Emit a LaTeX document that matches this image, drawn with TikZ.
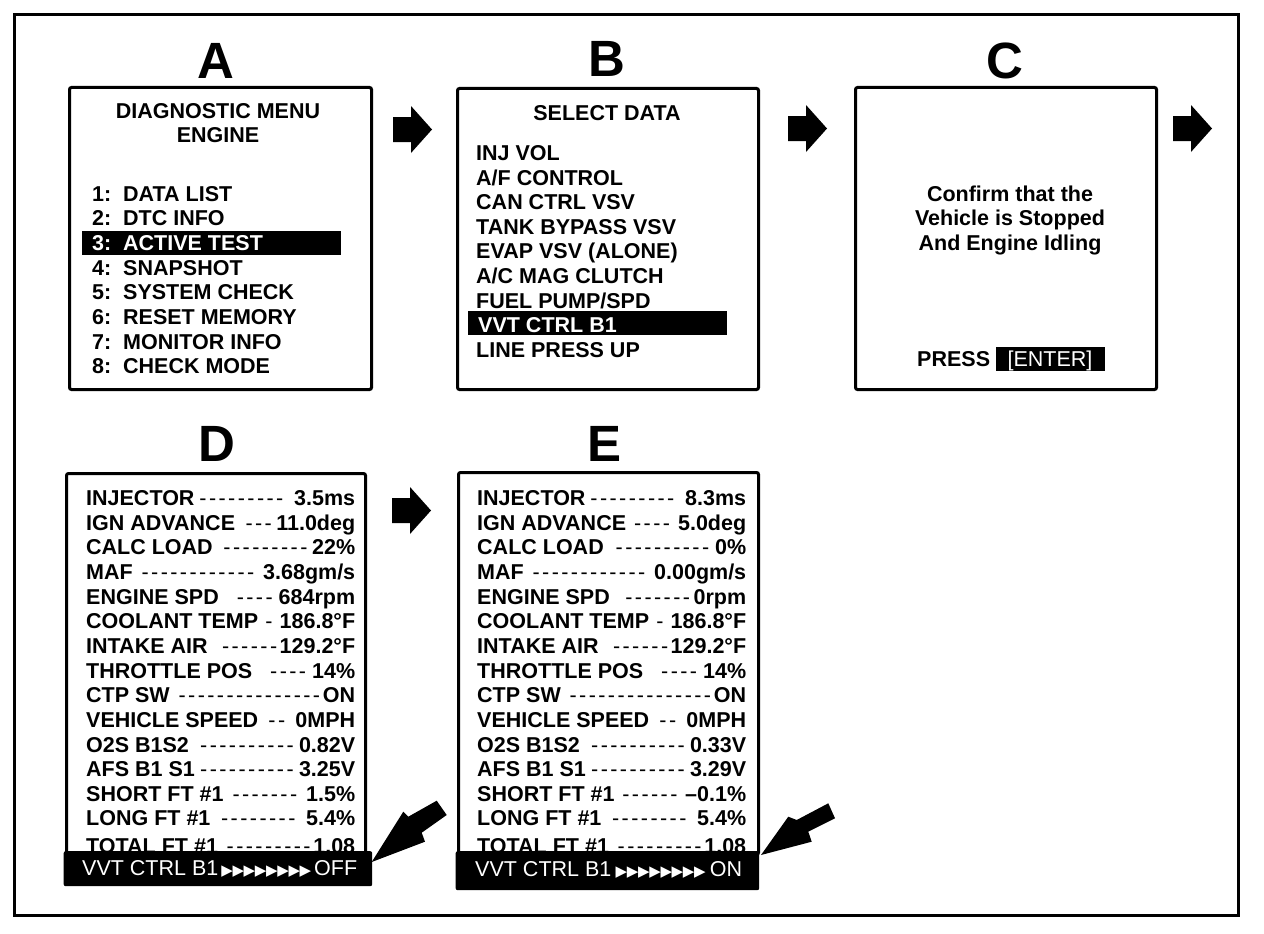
\documentclass[tikz,border=0pt]{standalone}
\usepackage{fontspec}
\setmainfont{Liberation Sans}
\newfontfamily\trifont{DejaVu Sans}
\newcommand{\ldr}{\cleaders\hbox to 9.6pt{\hss\mdseries-\hss}\hfill}
\newcommand{\onetri}{\makebox[11.2pt]{▶}}
\newcommand{\tris}{{\trifont\fontsize{15}{15}\selectfont\onetri\onetri\onetri\onetri\onetri\onetri\onetri\onetri}}
\tikzset{
  panel/.style={draw, line width=3pt, rounded corners=2pt, inner sep=0pt, anchor=north west},
  hlbar/.style={fill=black, inner sep=0pt, anchor=north west},
  tx/.style={inner sep=0pt, font=\fontsize{21.5}{21.5}\selectfont\bfseries},
  wtx/.style={inner sep=0pt, text=white, font=\fontsize{21.5}{21.5}\selectfont\bfseries},
  wtxr/.style={inner sep=0pt, text=white, font=\fontsize{21.5}{21.5}\selectfont},
  lbl/.style={inner sep=0pt, anchor=base, font=\fontsize{51}{51}\selectfont\bfseries},
  rarrow/.pic={\fill (0,-12.5) -- (18,-12.5) -- (18,-23.5) -- (39,0) -- (18,23.5) -- (18,12.5) -- (0,12.5) -- cycle;}
}
\begin{document}
\begin{tikzpicture}[x=1pt,y=-1pt]
\useasboundingbox (0,0) rectangle (1264,934);
\fill[white] (0,0) rectangle (1264,934);
\draw[line width=3pt] (14,15) rectangle (1238,915);

% ---------- A ----------
\node[lbl] (labA) at (216,78) {A};
\node[panel, minimum width=302pt, minimum height=302pt] (pA) at (68,86) {};
\node[tx, anchor=base] (aT1) at (218,118) {DIAGNOSTIC MENU};
\node[tx, anchor=base] (aT2) at (218,142) {ENGINE};
\node[hlbar, minimum width=259pt, minimum height=24pt] (hA) at (82,231) {};
\node[tx, anchor=base west] (an1) at (92,201) {1:};
\node[tx, anchor=base west] (at1) at (123,201) {DATA LIST};
\node[tx, anchor=base west] (an2) at (92,225.7) {2:};
\node[tx, anchor=base west] (at2) at (123,225.7) {DTC INFO};
\node[wtx, anchor=base west] (an3) at (92,250.4) {3:};
\node[wtx, anchor=base west] (at3) at (123,250.4) {ACTIVE TEST};
\node[tx, anchor=base west] (an4) at (92,275.1) {4:};
\node[tx, anchor=base west] (at4) at (123,275.1) {SNAPSHOT};
\node[tx, anchor=base west] (an5) at (92,299.8) {5:};
\node[tx, anchor=base west] (at5) at (123,299.8) {SYSTEM CHECK};
\node[tx, anchor=base west] (an6) at (92,324.5) {6:};
\node[tx, anchor=base west] (at6) at (123,324.5) {RESET MEMORY};
\node[tx, anchor=base west] (an7) at (92,349.2) {7:};
\node[tx, anchor=base west] (at7) at (123,349.2) {MONITOR INFO};
\node[tx, anchor=base west] (an8) at (92,373.9) {8:};
\node[tx, anchor=base west] (at8) at (123,373.9) {CHECK MODE};

% ---------- B ----------
\node[lbl] (labB) at (607,77) {B};
\node[panel, minimum width=301pt, minimum height=301pt] (pB) at (456,87) {};
\node[tx, anchor=base] (bT) at (607,120) {SELECT DATA};
\node[hlbar, minimum width=259pt, minimum height=24pt] (hB) at (468,311) {};
\node[tx, anchor=base west] (b1) at (476,160.5) {INJ VOL};
\node[tx, anchor=base west] (b2) at (476,185.1) {A/F CONTROL};
\node[tx, anchor=base west] (b3) at (476,209.7) {CAN CTRL VSV};
\node[tx, anchor=base west] (b4) at (476,234.3) {TANK BYPASS VSV};
\node[tx, anchor=base west] (b5) at (476,258.9) {EVAP VSV (ALONE)};
\node[tx, anchor=base west] (b6) at (476,283.5) {A/C MAG CLUTCH};
\node[tx, anchor=base west] (b7) at (476,308.1) {FUEL PUMP/SPD};
\node[wtx, anchor=base west] (b8) at (478,332.7) {VVT CTRL B1};
\node[tx, anchor=base west] (b9) at (476,357.3) {LINE PRESS UP};

% ---------- C ----------
\node[lbl] (labC) at (1005,78) {C};
\node[panel, minimum width=301pt, minimum height=302pt] (pC) at (854,86) {};
\node[tx, anchor=base] (c1) at (1010,201) {Confirm that the};
\node[tx, anchor=base] (c2) at (1010,225.7) {Vehicle is Stopped};
\node[tx, anchor=base] (c3) at (1010,250.4) {And Engine Idling};
\node[tx, anchor=base west] (cP) at (917,366) {PRESS};
\node[hlbar, minimum width=109pt, minimum height=24pt] (cE) at (996,347) {};
\node[wtxr, anchor=base] (cEt) at (1050,366) {[ENTER]};

% ---------- step arrows ----------
\pic (arAB) at (393,129.5) {rarrow};
\pic (arBC) at (788,128.5) {rarrow};
\pic (arCx) at (1173,128.5) {rarrow};
\pic (arDE) at (392,510.5) {rarrow};

% ---------- D ----------
\node[lbl] (labD) at (217,461) {D};
\node[panel, minimum width=299pt, minimum height=381pt] (pD) at (65,472) {};
\node[tx, anchor=base west] (d1) at (86,505.5) {\hbox to 269pt{INJECTOR\ldr\ 3.5ms}};
\node[tx, anchor=base west] (d2) at (86,530.15) {\hbox to 269pt{IGN ADVANCE\ \ldr 11.0deg}};
\node[tx, anchor=base west] (d3) at (86,554.8) {\hbox to 269pt{CALC LOAD\ \ldr 22\%}};
\node[tx, anchor=base west] (d4) at (86,579.45) {\hbox to 269pt{MAF\ \ldr\ 3.68gm/s}};
\node[tx, anchor=base west] (d5) at (86,604.1) {\hbox to 269pt{ENGINE SPD\ \ \ldr 684rpm}};
\node[tx, anchor=base west] (d6) at (86,628.75) {\hbox to 269pt{COOLANT TEMP\hfill{\mdseries -}\hfill 186.8°F}};
\node[tx, anchor=base west] (d7) at (86,653.4) {\hbox to 269pt{INTAKE AIR\ \ \ldr 129.2°F}};
\node[tx, anchor=base west] (d8) at (86,678.05) {\hbox to 269pt{THROTTLE POS\ \ \ldr 14\%}};
\node[tx, anchor=base west] (d9) at (86,702.7) {\hbox to 269pt{CTP SW\ \ldr ON}};
\node[tx, anchor=base west] (d10) at (86,727.35) {\hbox to 269pt{VEHICLE SPEED\ \ldr\ 0MPH}};
\node[tx, anchor=base west] (d11) at (86,752) {\hbox to 269pt{O2S B1S2\ \ldr 0.82V}};
\node[tx, anchor=base west] (d12) at (86,776.65) {\hbox to 269pt{AFS B1 S1\ldr 3.25V}};
\node[tx, anchor=base west] (d13) at (86,801.3) {\hbox to 269pt{SHORT FT \#1\ \ldr\ 1.5\%}};
\node[tx, anchor=base west] (d14) at (86,825.95) {\hbox to 269pt{LONG FT \#1\ \ldr\ 5.4\%}};
\node[tx, anchor=base west] (d15) at (86,853) {\hbox to 269pt{TOTAL FT \#1\ \ldr 1.08}};
\node[hlbar, rounded corners=2pt, minimum width=308.5pt, minimum height=35pt] (barD) at (63.5,851) {};
\node[wtxr, anchor=base west] (barDt) at (82,875) {\hbox to 275pt{VVT CTRL B1\hfill\tris\hfill OFF}};

% ---------- E ----------
\node[lbl] (labE) at (605,461) {E};
\node[panel, minimum width=300pt, minimum height=382pt] (pE) at (457,471) {};
\node[tx, anchor=base west] (e1) at (477,505.5) {\hbox to 269pt{INJECTOR\ldr\ 8.3ms}};
\node[tx, anchor=base west] (e2) at (477,530.15) {\hbox to 269pt{IGN ADVANCE\ \ldr\ 5.0deg}};
\node[tx, anchor=base west] (e3) at (477,554.8) {\hbox to 269pt{CALC LOAD\ \ldr 0\%}};
\node[tx, anchor=base west] (e4) at (477,579.45) {\hbox to 269pt{MAF\ \ldr\ 0.00gm/s}};
\node[tx, anchor=base west] (e5) at (477,604.1) {\hbox to 269pt{ENGINE SPD\ \ \ldr 0rpm}};
\node[tx, anchor=base west] (e6) at (477,628.75) {\hbox to 269pt{COOLANT TEMP\hfill{\mdseries -}\hfill 186.8°F}};
\node[tx, anchor=base west] (e7) at (477,653.4) {\hbox to 269pt{INTAKE AIR\ \ \ldr 129.2°F}};
\node[tx, anchor=base west] (e8) at (477,678.05) {\hbox to 269pt{THROTTLE POS\ \ \ldr 14\%}};
\node[tx, anchor=base west] (e9) at (477,702.7) {\hbox to 269pt{CTP SW\ \ldr ON}};
\node[tx, anchor=base west] (e10) at (477,727.35) {\hbox to 269pt{VEHICLE SPEED\ \ldr\ 0MPH}};
\node[tx, anchor=base west] (e11) at (477,752) {\hbox to 269pt{O2S B1S2\ \ldr 0.33V}};
\node[tx, anchor=base west] (e12) at (477,776.65) {\hbox to 269pt{AFS B1 S1\ldr 3.29V}};
\node[tx, anchor=base west] (e13) at (477,801.3) {\hbox to 269pt{SHORT FT \#1\ \ldr\ –0.1\%}};
\node[tx, anchor=base west] (e14) at (477,825.95) {\hbox to 269pt{LONG FT \#1\ \ldr\ 5.4\%}};
\node[tx, anchor=base west] (e15) at (477,853) {\hbox to 269pt{TOTAL FT \#1\ \ldr 1.08}};
\node[hlbar, rounded corners=2pt, minimum width=303.5pt, minimum height=39pt] (barE) at (455.5,851) {};
\node[wtxr, anchor=base west] (barEt) at (475,876) {\hbox to 267pt{VVT CTRL B1\hfill\tris\hfill ON}};

% ---------- pointer arrows ----------
\fill (371.7,862) -- (403.3,811.7) -- (408.3,816.7) -- (436.7,800.7) -- (446.7,815) -- (421.7,832.7) -- (425,841.7) -- cycle;
\fill (761,855) -- (788.3,816.7) -- (796.7,820) -- (828.3,803.3) -- (835,818.3) -- (808.3,831.7) -- (811.7,841.7) -- cycle;
\end{tikzpicture}
\end{document}
